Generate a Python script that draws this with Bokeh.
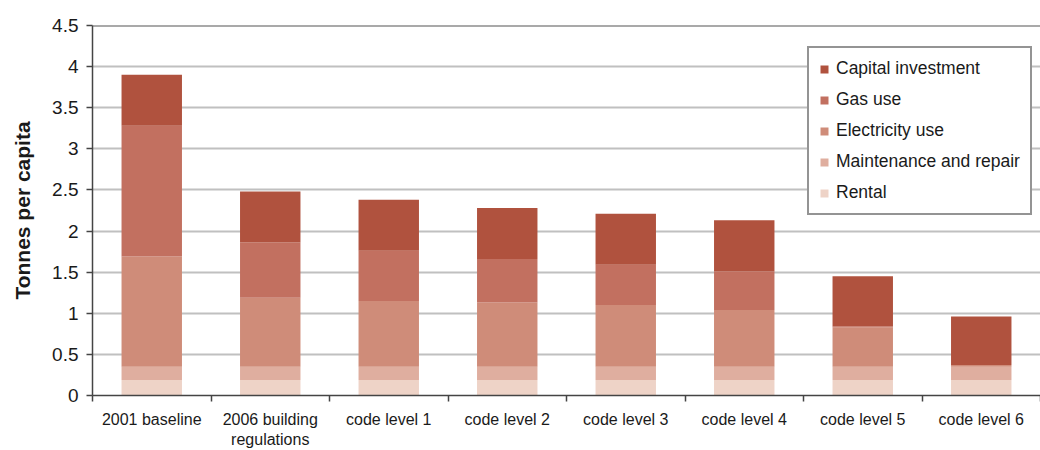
import numpy as np
from bokeh.plotting import figure
from bokeh.models import FixedTicker, Legend, LegendItem, Range1d, Span, ColumnDataSource
from bokeh.embed import file_html
from bokeh.resources import INLINE

categories = ["2001 baseline", "2006 building\nregulations", "code level 1", "code level 2",
              "code level 3", "code level 4", "code level 5", "code level 6"]
rental = [0.19, 0.19, 0.19, 0.19, 0.19, 0.19, 0.19, 0.19]
maintenance = [0.16, 0.16, 0.16, 0.16, 0.16, 0.16, 0.16, 0.16]
electricity = [1.34, 0.84, 0.80, 0.78, 0.75, 0.69, 0.48, 0.02]
gas = [1.59, 0.67, 0.61, 0.53, 0.49, 0.47, 0.01, 0.0]
capital = [0.62, 0.62, 0.62, 0.62, 0.62, 0.62, 0.61, 0.59]

series_names = ["Rental", "Maintenance and repair", "Electricity use", "Gas use", "Capital investment"]
series_keys = ["rental", "maintenance", "electricity", "gas", "capital"]
colors = ["#EED3C7", "#DFAE9F", "#CF8C79", "#C27060", "#B0523E"]

x = np.arange(len(categories)) + 0.5
source = ColumnDataSource(dict(x=x, rental=rental, maintenance=maintenance,
                               electricity=electricity, gas=gas, capital=capital))

FONT = "Liberation Sans"

p = figure(width=1040, height=450, output_backend="svg", toolbar_location=None,
           x_range=Range1d(0, len(categories)), y_range=Range1d(0, 4.5),
           min_border_left=92, min_border_right=0, min_border_top=25, min_border_bottom=55)
p.outline_line_color = None
p.background_fill_color = "white"
p.border_fill_color = "white"

renderers = p.vbar_stack(series_keys, x="x", width=0.51, color=colors, source=source,
                         line_color=None)

# grid
p.xgrid.grid_line_color = None
p.ygrid.grid_line_color = "#C0C0C0"
p.ygrid.grid_line_width = 2
p.ygrid.ticker = FixedTicker(ticks=[0.5, 1, 1.5, 2, 2.5, 3, 3.5, 4])
p.add_layout(Span(location=4.5, dimension="width", line_color="#555555", line_width=2))

# y axis
yticks = [0, 0.5, 1, 1.5, 2, 2.5, 3, 3.5, 4, 4.5]
p.yaxis.ticker = FixedTicker(ticks=yticks)
p.yaxis.major_label_overrides = {t: (str(int(t)) if float(t).is_integer() else str(t)) for t in yticks}
p.yaxis.axis_label = "Tonnes per capita"
p.yaxis.axis_label_text_font = FONT
p.yaxis.axis_label_text_font_style = "bold"
p.yaxis.axis_label_text_font_size = "21px"
p.yaxis.axis_label_text_color = "#1a1a1a"
p.yaxis.axis_label_standoff = 15
p.yaxis.major_label_text_font = FONT
p.yaxis.major_label_text_font_size = "19px"
p.yaxis.major_label_text_color = "#1a1a1a"
p.yaxis.major_label_standoff = 8
p.yaxis.major_tick_out = 6
p.yaxis.major_tick_in = 0
p.yaxis.minor_tick_line_color = None
p.yaxis.axis_line_color = "#444444"
p.yaxis.axis_line_width = 1.5
p.yaxis.major_tick_line_color = "#444444"
p.yaxis.major_tick_line_width = 1.5

# x axis: labels at centres, tick marks at boundaries
boundaries = list(np.arange(len(categories) + 1).astype(float))
p.xaxis.ticker = FixedTicker(ticks=list(x), minor_ticks=boundaries)
p.xaxis.major_label_overrides = {float(xv): c for xv, c in zip(x, categories)}
p.xaxis.major_tick_out = 0
p.xaxis.major_tick_in = 0
p.xaxis.minor_tick_out = 6
p.xaxis.minor_tick_in = 0
p.xaxis.minor_tick_line_color = "#444444"
p.xaxis.minor_tick_line_width = 1.5
p.xaxis.axis_line_color = "#444444"
p.xaxis.axis_line_width = 1.5
p.xaxis.major_label_text_font = FONT
p.xaxis.major_label_text_font_size = "16px"
p.xaxis.major_label_text_color = "#1a1a1a"
p.xaxis.major_label_standoff = 9

# legend (top item first)
items = [LegendItem(label=n, renderers=[r]) for n, r in zip(series_names, renderers)][::-1]
legend = Legend(items=items, location=(715, 180))
legend.label_text_font = FONT
legend.label_text_font_size = "17.5px"
legend.label_text_color = "#1a1a1a"
legend.glyph_width = 10
legend.glyph_height = 10
legend.label_height = 21
legend.label_standoff = 7
legend.spacing = 10
legend.padding = 10
legend.margin = 0
legend.border_line_color = "#2a2a2a"
legend.border_line_width = 2
legend.background_fill_color = "white"
legend.background_fill_alpha = 1
p.add_layout(legend, "center")

open("out.html", "w").write(file_html(p, INLINE))
